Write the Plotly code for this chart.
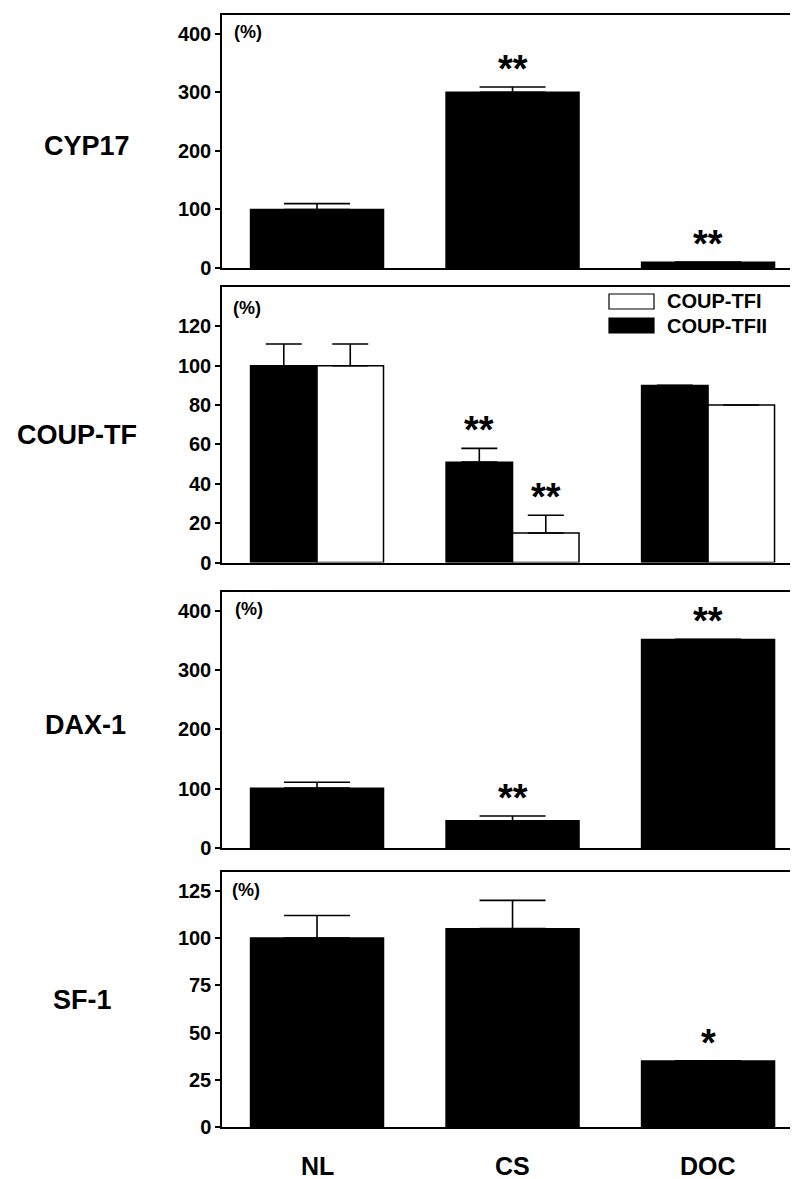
import plotly.graph_objects as go

# page offset: browser body margin of 8px shifts the figure
OFF = 8
PAGE_W, PAGE_H = 798, 1179
W, H = PAGE_W - OFF, PAGE_H - OFF

# ---------------- data ----------------
groups = ["NL", "CS", "DOC"]

cyp17_vals = [100, 300, 10]
cyp17_err = [10, 9, 0]
cyp17_stars = ["", "**", "**"]

coup_names = ["COUP-TFII", "COUP-TFI"]
coup_tfii_vals = [100, 51, 90]
coup_tfii_err = [11, 7, 0]
coup_tfii_stars = ["", "**", ""]
coup_tfi_vals = [100, 15, 80]
coup_tfi_err = [11, 9, 0]
coup_tfi_stars = ["", "**", ""]

dax1_vals = [101, 46, 352]
dax1_err = [10, 8, 0]
dax1_stars = ["", "**", "**"]

sf1_vals = [100, 105, 35]
sf1_err = [12, 15, 0]
sf1_stars = ["", "", "*"]

row_labels = ["CYP17", "COUP-TF", "DAX-1", "SF-1"]
y_ticks = [[0, 100, 200, 300, 400],
           [0, 20, 40, 60, 80, 100, 120],
           [0, 100, 200, 300, 400],
           [0, 25, 50, 75, 100, 125]]
y_ranges = [[0, 432], [0, 140], [0, 432], [0, 135]]
unit_label = "(%)"

# ---------------- layout helpers ----------------
FONT = "Arial, Liberation Sans, Helvetica, sans-serif"


def py(p):
    return 1 - (p - OFF) / H


def px(p):
    return (p - OFF) / W


# panel pixel extents (top, bottom) in page pixels
panels = [(15, 268), (287, 562.5), (592, 848), (872, 1127)]
x_left = 222
x_range = [-0.486, 2.46]

fig = go.Figure()

BW = 1.5


def add_bar(vals, errs, idx, color, cap, name=None, offsetgroup=None):
    fig.add_trace(go.Bar(
        x=groups, y=vals, name=name,
        xaxis="x" if idx == 1 else f"x{idx}",
        yaxis="y" if idx == 1 else f"y{idx}",
        marker=dict(color=color, line=dict(color="black", width=BW)),
        error_y=dict(type="data", symmetric=False, array=errs,
                     arrayminus=[0] * len(errs), color="black",
                     thickness=1.6, width=cap),
        offsetgroup=offsetgroup, showlegend=False,
    ))


add_bar(cyp17_vals, cyp17_err, 1, "black", 33)
add_bar(coup_tfii_vals, coup_tfii_err, 2, "black", 18, coup_names[0], "a")
add_bar(coup_tfi_vals, coup_tfi_err, 2, "white", 18, coup_names[1], "b")
add_bar(dax1_vals, dax1_err, 3, "black", 33)
add_bar(sf1_vals, sf1_err, 4, "black", 33)

layout = dict(
    width=W, height=H,
    margin=dict(l=0, r=0, t=0, b=0),
    paper_bgcolor="white", plot_bgcolor="white",
    barmode="group", bargap=0.32, bargroupgap=0.0,
    font=dict(family=FONT, color="black"),
    showlegend=False,
)

for i, (top, bot) in enumerate(panels, start=1):
    sfx = "" if i == 1 else str(i)
    layout[f"xaxis{sfx}"] = dict(
        domain=[px(x_left), 1.0], range=x_range, type="category",
        showline=True, linecolor="black", linewidth=2, mirror=True,
        showticklabels=False, ticks="", showgrid=False, zeroline=False,
        anchor=f"y{sfx}", fixedrange=True,
    )
    layout[f"yaxis{sfx}"] = dict(
        domain=[py(bot), py(top)], range=y_ranges[i - 1],
        tickvals=y_ticks[i - 1], ticktext=[str(v) for v in y_ticks[i - 1]],
        ticks="outside", ticklen=5, tickwidth=1.5, tickcolor="black",
        tickfont=dict(size=20, family=FONT, weight="bold"),
        showline=True, linecolor="black", linewidth=1.5,
        showgrid=False, zeroline=False, anchor=f"x{sfx}",
        automargin=False, fixedrange=True,
    )

fig.update_layout(**layout)

annotations = []

# row labels
row_pos = [(87, 146), (77, 435), (85, 725), (82, 1000)]
for lab, (cx, cy) in zip(row_labels, row_pos):
    annotations.append(dict(text=lab, xref="paper", yref="paper",
                            x=px(cx), y=py(cy), xanchor="center", yanchor="middle",
                            showarrow=False,
                            font=dict(size=27, family=FONT, weight="bold")))

# (%) labels
pct_pos = [(232, 32), (231, 308), (233, 609), (230, 890)]
for (lx, ly) in pct_pos:
    annotations.append(dict(text=unit_label, xref="paper", yref="paper",
                            x=px(lx), y=py(ly), xanchor="left", yanchor="middle",
                            showarrow=False,
                            font=dict(size=18, family=FONT, weight="bold")))

# category labels under bottom panel
for g in groups:
    annotations.append(dict(text=g, xref="x4", yref="paper", x=g, y=py(1166),
                            xanchor="center", yanchor="middle", showarrow=False,
                            font=dict(size=25, family=FONT, weight="bold")))


# significance stars
def add_stars(vals, errs, stars, idx, offset=0.0):
    sfx = "" if idx == 1 else str(idx)
    for k, (v, e, s) in enumerate(zip(vals, errs, stars)):
        if not s:
            continue
        annotations.append(dict(text=s, xref=f"x{sfx}", yref=f"y{sfx}",
                                x=k + offset, y=v + e, xanchor="center",
                                yanchor="bottom", yshift=-5, showarrow=False,
                                font=dict(size=38, family=FONT, weight="bold")))


add_stars(cyp17_vals, cyp17_err, cyp17_stars, 1)
add_stars(coup_tfii_vals, coup_tfii_err, coup_tfii_stars, 2, -0.17)
add_stars(coup_tfi_vals, coup_tfi_err, coup_tfi_stars, 2, 0.17)
add_stars(dax1_vals, dax1_err, dax1_stars, 3)
add_stars(sf1_vals, sf1_err, sf1_stars, 4)

# custom legend (panel 2)
shapes = []
leg_items = [(coup_names[1], "white", 294, 309), (coup_names[0], "black", 318, 333)]
for name, col, t, b in leg_items:
    shapes.append(dict(type="rect", xref="paper", yref="paper",
                       x0=px(609), x1=px(654), y0=py(b), y1=py(t),
                       fillcolor=col, line=dict(color="black", width=1.2)))
    annotations.append(dict(text=name, xref="paper", yref="paper",
                            x=px(665), y=py((t + b) / 2), xanchor="left",
                            yanchor="middle", showarrow=False,
                            font=dict(size=20, family=FONT, weight="bold")))

fig.update_layout(annotations=annotations, shapes=shapes)

fig.write_html("out.html")
